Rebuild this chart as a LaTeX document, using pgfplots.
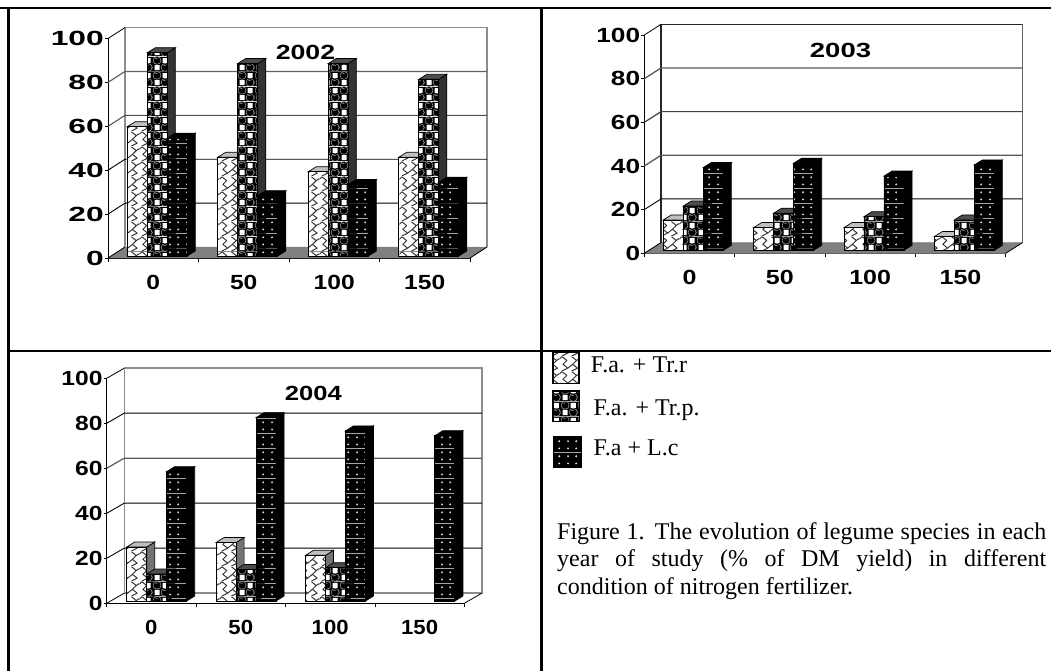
\documentclass[border=0pt]{standalone}
\usepackage{graphicx}
\usepackage{pgfplots}
\pgfplotsset{compat=1.18}
\usetikzlibrary{patterns}
\usepackage{fontspec}
\setmainfont{Liberation Serif}
\newfontfamily\arl{Liberation Sans}
\definecolor{wallg}{HTML}{8C8C8C}
\definecolor{floorg}{HTML}{808080}
\pgfdeclarepatterninherentlycolored{shingle}{\pgfqpoint{0pt}{0pt}}{\pgfqpoint{20pt}{15pt}}{\pgfqpoint{20pt}{15pt}}{%
 \pgfsetfillcolor{white}\pgfpathrectangle{\pgfqpoint{0pt}{0pt}}{\pgfqpoint{20pt}{15pt}}\pgfusepath{fill}%
 \pgfsetstrokecolor{black!80}\pgfsetlinewidth{1pt}\pgfsetroundjoin
 \pgfpathmoveto{\pgfqpoint{2pt}{15pt}}\pgfpathlineto{\pgfqpoint{7pt}{11pt}}\pgfpathlineto{\pgfqpoint{3pt}{7pt}}\pgfpathlineto{\pgfqpoint{8pt}{3pt}}\pgfpathlineto{\pgfqpoint{2pt}{0pt}}%
 \pgfpathmoveto{\pgfqpoint{12pt}{15pt}}\pgfpathlineto{\pgfqpoint{17pt}{11pt}}\pgfpathlineto{\pgfqpoint{13pt}{7pt}}\pgfpathlineto{\pgfqpoint{18pt}{3pt}}\pgfpathlineto{\pgfqpoint{12pt}{0pt}}%
 \pgfpathmoveto{\pgfqpoint{8pt}{3pt}}\pgfpathlineto{\pgfqpoint{13pt}{7pt}}%
 \pgfpathmoveto{\pgfqpoint{17pt}{11pt}}\pgfpathlineto{\pgfqpoint{20pt}{13pt}}%
 \pgfpathmoveto{\pgfqpoint{0pt}{13pt}}\pgfpathlineto{\pgfqpoint{2pt}{15pt}}%
 \pgfusepath{stroke}}
\pgfdeclarepatterninherentlycolored{balls}{\pgfqpoint{0pt}{0pt}}{\pgfqpoint{17pt}{15pt}}{\pgfqpoint{17pt}{15pt}}{%
 \pgfsetfillcolor{black}\pgfpathrectangle{\pgfqpoint{0pt}{0pt}}{\pgfqpoint{17pt}{15pt}}\pgfusepath{fill}%
 \pgfsetfillcolor{white}%
 \pgfpathrectangle{\pgfqpoint{1.6pt}{1pt}}{\pgfqpoint{5.3pt}{5.3pt}}\pgfusepath{fill}%
 \pgfpathrectangle{\pgfqpoint{10.1pt}{8.5pt}}{\pgfqpoint{5.3pt}{5.3pt}}\pgfusepath{fill}%
 \pgfsetlinewidth{0.6pt}\pgfsetstrokecolor{black!40}\pgfsetfillcolor{black}%
 \pgfpathcircle{\pgfqpoint{4.25pt}{11.25pt}}{4.2pt}\pgfusepath{fill,stroke}%
 \pgfpathcircle{\pgfqpoint{12.75pt}{3.75pt}}{4.2pt}\pgfusepath{fill,stroke}%
 \pgfsetfillcolor{black!50}%
 \pgfpathellipse{\pgfqpoint{3.6pt}{13.4pt}}{\pgfqpoint{1.7pt}{0pt}}{\pgfqpoint{0pt}{.6pt}}\pgfusepath{fill}%
 \pgfpathellipse{\pgfqpoint{12.1pt}{5.9pt}}{\pgfqpoint{1.7pt}{0pt}}{\pgfqpoint{0pt}{.6pt}}\pgfusepath{fill}%
 }
\pgfdeclarepatterninherentlycolored{dots3}{\pgfqpoint{0pt}{0pt}}{\pgfqpoint{16.6pt}{14.6pt}}{\pgfqpoint{16.6pt}{14.6pt}}{%
 \pgfsetfillcolor{black}\pgfpathrectangle{\pgfqpoint{0pt}{0pt}}{\pgfqpoint{16.6pt}{14.6pt}}\pgfusepath{fill}%
 \pgfsetfillcolor{white!85!black}%
 \pgfpathcircle{\pgfqpoint{4.15pt}{3.65pt}}{1.1pt}\pgfusepath{fill}%
 \pgfpathcircle{\pgfqpoint{12.45pt}{3.65pt}}{1.1pt}\pgfusepath{fill}%
 \pgfpathcircle{\pgfqpoint{4.15pt}{10.95pt}}{1.1pt}\pgfusepath{fill}%
 \pgfpathcircle{\pgfqpoint{12.45pt}{10.95pt}}{1.1pt}\pgfusepath{fill}%
 }
% one label: digits of Arial bold, widened as in the reference
\newcommand\lab[2]{\scalebox{#1}[1]{\fontsize{20.5}{20}\selectfont\arl\bfseries #2}}
% \dep{cluster}{series}{value}{side colour}{top colour}: the depth faces of one bar
\newcommand\dep[5]{%
 \pgfmathsetmacro\xr{#1+(\Off+(#2+1)*20)/\Ux}%
 \pgfmathsetmacro\xl{\xr-20/\Ux}%
 \pgfmathsetmacro\dd{8/\Ux}%
 \pgfmathsetmacro\yb{\Base/\Uy}%
 \pgfmathsetmacro\yt{#3+\Base/\Uy}%
 \pgfmathsetmacro\dy{5/\Uy}%
 \pgfmathsetmacro\xrr{\xr+\dd}\pgfmathsetmacro\xll{\xl+\dd}%
 \pgfmathsetmacro\ybb{\yb+\dy}\pgfmathsetmacro\ytt{\yt+\dy}%
 \addplot[draw=black,line width=.7pt,fill=#4,forget plot] coordinates {(\xr,\yb)(\xrr,\ybb)(\xrr,\ytt)(\xr,\yt)} -- cycle;
 \addplot[draw=black,line width=.7pt,fill=#5,forget plot] coordinates {(\xl,\yt)(\xll,\ytt)(\xrr,\ytt)(\xr,\yt)} -- cycle;
}
\pgfplotsset{
 panel/.style={
  scale only axis, clip=false, anchor=south west,
  xmin=0,xmax=4,ymin=0,ymax=100,
  axis x line=bottom, axis y line=left,
  axis line style={-,black,line width=.8pt},
  xtick={0.5,1.5,2.5,3.5}, minor xtick={0,1,2,3,4},
  ytick={0,20,40,60,80,100},
  tick style={black,line width=.8pt},
  major tick length=3pt, minor tick length=4pt, x tick style={draw=none},
  minor x tick style={draw=black,line width=.8pt},
  tick align=outside,
  yticklabel style={inner sep=0pt,xshift=-1pt},
  xticklabel style={inner sep=0pt,yshift=-14pt},
 },
 front/.style={ybar,bar width=20pt,draw=black,line width=.9pt,forget plot},
}
\begin{document}
\begin{tikzpicture}[x=1pt,y=1pt]
\path[use as bounding box] (0,0) rectangle (1051,-671);
% table rules
\draw[line width=2.2pt] (0,-8) -- (1051,-8);
\draw[line width=2.2pt] (8.5,-7) -- (8.5,-671);
\draw[line width=2.2pt] (541.5,-7) -- (541.5,-671);
\draw[line width=2.2pt] (8.5,-351) -- (1051,-351);

% ---------- 2002
\begin{axis}[panel, at={(108pt,-258pt)}, width=362pt, height=219.5pt,
 yticklabels={\lab{1.55}{0},\lab{1.55}{20},\lab{1.55}{40},\lab{1.55}{60},\lab{1.55}{80},\lab{1.55}{100}},
 xticklabels={\lab{1.2}{0},\lab{1.2}{50},\lab{1.2}{100},\lab{1.2}{150}}]
\def\Ux{90.5}\def\Uy{2.195}\def\Off{19.3}\def\Base{2}
% floor and walls
\addplot[fill=floorg,draw=floorg,forget plot] coordinates {(0,0)(4,0)(4.188,5)(0.188,5)} -- cycle;
\addplot[wallg,line width=1.4pt,forget plot] coordinates {(0.188,5)(0.188,105)(4.188,105)(4.188,5)};
\addplot[black,line width=.8pt,forget plot] coordinates {(4,0)(4.188,5)};
\addplot[black,line width=.8pt,forget plot] coordinates {(0,0)(0.188,5)};
\addplot[black,line width=.8pt,forget plot] coordinates {(0,100)(0.188,105)};
\addplot[wallg!70!black,line width=1.2pt,forget plot] coordinates {(0,80)(0.188,85)(4.188,85)};
\addplot[black!70,line width=1pt,forget plot] coordinates {(0,60)(0.188,65)(4.188,65)};
\addplot[black,line width=.9pt,forget plot] coordinates {(0,40)(0.188,45)(4.188,45)};
\addplot[black,line width=.9pt,forget plot] coordinates {(0,20)(0.188,25)(4.188,25)};
% F.a. + Tr.r
\dep{0}{0}{58.9}{black!55}{black!25}\dep{1}{0}{45}{black!55}{black!25}\dep{2}{0}{38.4}{black!55}{black!25}\dep{3}{0}{45}{black!55}{black!25}
\addplot[front,pattern=shingle,bar shift=-16pt,yshift=2pt] coordinates {(0.5,58.9)(1.5,45)(2.5,38.4)(3.5,45)};
% F.a. + Tr.p.
\dep{0}{1}{92.6}{black!80}{black!70}\dep{1}{1}{87.7}{black!80}{black!70}\dep{2}{1}{87.7}{black!80}{black!70}\dep{3}{1}{80.5}{black!80}{black!70}
\addplot[front,pattern=balls,bar shift=4pt,yshift=2pt] coordinates {(0.5,92.6)(1.5,87.7)(2.5,87.7)(3.5,80.5)};
% F.a + L.c
\dep{0}{2}{53.7}{black}{black}\dep{1}{2}{27.5}{black}{black}\dep{2}{2}{32.6}{black}{black}\dep{3}{2}{33.6}{black}{black}
\addplot[front,pattern=dots3,bar shift=24pt,yshift=2pt] coordinates {(0.5,53.7)(1.5,27.5)(2.5,32.6)(3.5,33.6)};
\end{axis}
\node at (305.5,-52) {\lab{1.3}{2002}};

% ---------- 2003
\begin{axis}[panel, at={(644.3pt,-253.3pt)}, width=361.4pt, height=218.3pt,
 yticklabels={\lab{1.28}{0},\lab{1.28}{20},\lab{1.28}{40},\lab{1.28}{60},\lab{1.28}{80},\lab{1.28}{100}},
 xticklabels={\lab{1.22}{0},\lab{1.22}{50},\lab{1.22}{100},\lab{1.22}{150}}]
\def\Ux{90.35}\def\Uy{2.183}\def\Off{19}\def\Base{3}
\addplot[fill=floorg,draw=floorg,forget plot] coordinates {(0,0)(4,0)(4.185,4.9)(0.185,4.9)} -- cycle;
\addplot[black!60,line width=1.2pt,forget plot] coordinates {(4.185,4.9)(4.185,104.9)};
\addplot[black!85,line width=1.1pt,forget plot] coordinates {(0.185,4.9)(0.185,104.9)(4.185,104.9)};
\addplot[black,line width=.8pt,forget plot] coordinates {(4,0)(4.185,4.9)};
\addplot[black,line width=.8pt,forget plot] coordinates {(0,0)(0.185,4.9)};
\addplot[black,line width=.8pt,forget plot] coordinates {(0,100)(0.185,104.9)};
\addplot[black!65,line width=1.3pt,forget plot] coordinates {(0,80)(0.185,84.9)(4.185,84.9)};
\addplot[black!75,line width=1.2pt,forget plot] coordinates {(0,60)(0.185,64.9)(4.185,64.9)};
\addplot[black!65,line width=1.3pt,forget plot] coordinates {(0,40)(0.185,44.9)(4.185,44.9)};
\addplot[black,line width=.9pt,forget plot] coordinates {(0,20)(0.185,24.9)(4.185,24.9)};
\dep{0}{0}{13.9}{black!55}{black!25}\dep{1}{0}{10.4}{black!55}{black!25}\dep{2}{0}{10.4}{black!55}{black!25}\dep{3}{0}{6.3}{black!55}{black!25}
\addplot[front,pattern=shingle,bar shift=-16.2pt,yshift=3pt] coordinates {(0.5,13.9)(1.5,10.4)(2.5,10.4)(3.5,6.3)};
\dep{0}{1}{20.3}{black!80}{black!70}\dep{1}{1}{17}{black!80}{black!70}\dep{2}{1}{15.4}{black!80}{black!70}\dep{3}{1}{13.9}{black!80}{black!70}
\addplot[front,pattern=balls,bar shift=3.8pt,yshift=3pt] coordinates {(0.5,20.3)(1.5,17)(2.5,15.4)(3.5,13.9)};
\dep{0}{2}{37.9}{black}{black}\dep{1}{2}{39.9}{black}{black}\dep{2}{2}{34}{black}{black}\dep{3}{2}{39.1}{black}{black}
\addplot[front,pattern=dots3,bar shift=23.8pt,yshift=3pt] coordinates {(0.5,37.9)(1.5,39.9)(2.5,34)(3.5,39.1)};
\end{axis}
\node at (840.5,-50) {\lab{1.34}{2003}};

% ---------- 2004
\begin{axis}[panel, at={(106.7pt,-603.3pt)}, width=357.6pt, height=225pt,
 yticklabels={\lab{1.2}{0},\lab{1.2}{20},\lab{1.2}{40},\lab{1.2}{60},\lab{1.2}{80},\lab{1.2}{100}},
 xticklabels={\lab{1.08}{0},\lab{1.08}{50},\lab{1.08}{100},\lab{1.08}{150}}]
\def\Ux{89.4}\def\Uy{2.25}\def\Off{20}\def\Base{2.3}
\addplot[wallg,line width=1.4pt,forget plot] coordinates {(0.196,4.5)(0.196,104.5)(4.196,104.5)(4.196,4.5)(0.196,4.5)};
\addplot[black,line width=.8pt,forget plot] coordinates {(4,0)(4.196,4.5)};
\addplot[black,line width=.8pt,forget plot] coordinates {(0,0)(0.196,4.5)};
\addplot[black,line width=.8pt,forget plot] coordinates {(0,100)(0.196,104.5)};
\addplot[black,line width=.9pt,forget plot] coordinates {(0,80)(0.196,84.5)(4.196,84.5)};
\addplot[black!65,line width=1.2pt,forget plot] coordinates {(0,60)(0.196,64.5)(4.196,64.5)};
\addplot[black,line width=.9pt,forget plot] coordinates {(0,40)(0.196,44.5)(4.196,44.5)};
\addplot[black,line width=.9pt,forget plot] coordinates {(0,20)(0.196,24.5)(4.196,24.5)};
\dep{0}{0}{24}{black!55}{black!25}\dep{1}{0}{26}{black!55}{black!25}\dep{2}{0}{20.3}{black!55}{black!25}
\addplot[front,pattern=shingle,bar shift=-14.7pt,yshift=2.3pt] coordinates {(0.5,24)(1.5,26)(2.5,20.3)};
\dep{0}{1}{12}{black!80}{black!70}\dep{1}{1}{14}{black!80}{black!70}\dep{2}{1}{14.8}{black!80}{black!70}
\addplot[front,pattern=balls,bar shift=5.3pt,yshift=2.3pt] coordinates {(0.5,12)(1.5,14)(2.5,14.8)};
\dep{0}{2}{57.5}{black}{black}\dep{1}{2}{81.5}{black}{black}\dep{2}{2}{75.6}{black}{black}\dep{3}{2}{73.5}{black}{black}
\addplot[front,pattern=dots3,bar shift=25.3pt,yshift=2.3pt] coordinates {(0.5,57.5)(1.5,81.5)(2.5,75.6)(3.5,73.5)};
\end{axis}
\node at (313.3,-393.3) {\lab{1.25}{2004}};

% ---------- legend
\draw[black,line width=1.4pt,pattern=shingle] (552.8,-352.5) rectangle (579,-383.5);
\draw[black,line width=1.4pt,pattern=balls] (552.8,-391) rectangle (579.5,-421.5);
\draw[black,line width=1.4pt,pattern=dots3] (553.2,-437) rectangle (581.5,-467.5);
\fontsize{24}{27.5}\selectfont
\node[anchor=base west,inner sep=0pt] at (590.7,-372.7) {F.a. + Tr.r};
\node[anchor=base west,inner sep=0pt] at (593.3,-415.7) {F.a. + Tr.p.};
\node[anchor=base west,inner sep=0pt] at (593.3,-455.7) {F.a + L.c};
% ---------- caption
\node[anchor=base west,inner sep=0pt] at (557,-539.3) {\makebox[489pt][s]{Figure 1. The evolution of legume species in each}};
\node[anchor=base west,inner sep=0pt] at (557,-566.7) {\makebox[489pt][s]{year of study (\% of DM yield) in different}};
\node[anchor=base west,inner sep=0pt] at (557,-594.3) {condition of nitrogen fertilizer.};
\end{tikzpicture}
\end{document}
